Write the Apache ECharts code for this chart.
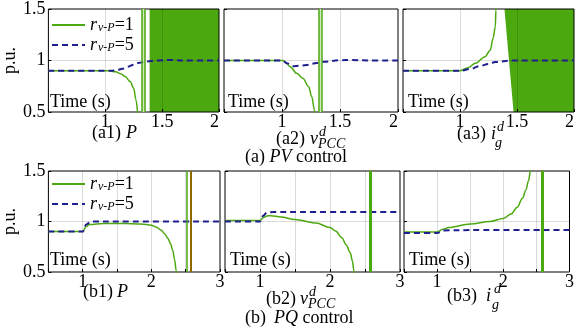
<!DOCTYPE html>
<html>
<head>
<meta charset="utf-8">
<script src="https://cdn.jsdelivr.net/npm/echarts@6/dist/echarts.min.js"></script>
<style>
  html, body { margin: 0; padding: 0; background: #fff; }
  #chart { width: 577px; height: 332px; }
</style>
</head>
<body>
<div id="chart"></div>
<script>
// series names (legend)
const names = ['rv-P=1', 'rv-P=5']

// y ticks shared by every panel
const yTicks = [0.5, 1, 1.5]

// (a) PV control, [time s, p.u.]
const a1Green = [[0.5, 0.9], [1.03, 0.9], [1.09, 0.89], [1.14, 0.87], [1.175, 0.845], [1.22, 0.795], [1.25, 0.73], [1.27, 0.62], [1.285, 0.48]]
const a1Blue = [[0.5, 0.9], [1.05, 0.9], [1.1, 0.905], [1.15, 0.92], [1.2, 0.94], [1.25, 0.96], [1.3, 0.978], [1.36, 0.99], [1.45, 1.0], [1.55, 1.005], [1.7, 1.0], [2.0, 1.0]]
const a2Green = [[0.5, 1.0], [1.01, 1.0], [1.04, 0.97], [1.07, 0.94], [1.127, 0.876], [1.18, 0.827], [1.23, 0.745], [1.256, 0.65], [1.28, 0.52], [1.285, 0.45]]
const a2Blue = [[0.5, 1.0], [1.0, 1.0], [1.05, 0.97], [1.1, 0.945], [1.15, 0.948], [1.21, 0.956], [1.3, 0.975], [1.36, 0.988], [1.5, 1.003], [1.6, 1.005], [1.75, 1.0], [2.0, 1.0]]
const a3Green = [[0.5, 0.9], [1.0, 0.9], [1.07, 0.93], [1.135, 0.973], [1.22, 1.037], [1.265, 1.1], [1.29, 1.215], [1.31, 1.33], [1.315, 1.49], [1.318, 1.6]]
const a3Blue = [[0.5, 0.9], [1.0, 0.9], [1.1, 0.92], [1.17, 0.945], [1.25, 0.965], [1.31, 0.985], [1.45, 1.0], [2.0, 1.0]]

// (b) PQ control
const b1Green = [[0.5, 0.9], [1.0, 0.9], [1.05, 0.95], [1.1, 0.97], [1.3, 0.98], [1.6, 0.98], [1.85, 0.975], [2.0, 0.964], [2.07, 0.945], [2.14, 0.915], [2.2, 0.875], [2.24, 0.833], [2.28, 0.78], [2.31, 0.717], [2.34, 0.62], [2.36, 0.52], [2.37, 0.45]]
const b1Blue = [[0.5, 0.9], [1.0, 0.9], [1.05, 0.97], [1.12, 1.0], [1.5, 1.0], [3.0, 1.0]]
const b2Green = [[0.5, 1.01], [1.0, 1.01], [1.05, 1.04], [1.1, 1.055], [1.15, 1.058], [1.3, 1.045], [1.5, 1.02], [1.8, 0.985], [2.0, 0.94], [2.08, 0.905], [2.17, 0.84], [2.23, 0.77], [2.29, 0.69], [2.32, 0.61], [2.34, 0.52], [2.35, 0.45]]
const b2Blue = [[0.5, 1.0], [1.0, 1.0], [1.05, 1.06], [1.1, 1.09], [1.2, 1.095], [1.6, 1.095], [3.0, 1.095]]
const b3Green = [[0.5, 0.897], [1.0, 0.897], [1.1, 0.925], [1.17, 0.94], [1.5, 0.975], [1.8, 1.0], [2.0, 1.03], [2.12, 1.075], [2.21, 1.14], [2.29, 1.23], [2.34, 1.31], [2.38, 1.4], [2.41, 1.5], [2.43, 1.6]]
const b3Blue = [[0.5, 0.885], [1.0, 0.885], [1.1, 0.912], [1.5, 0.915], [3.0, 0.915]]

// oscillation: filled polygons, pale bands, vertical traces (time s)
const a1Fill = [[1.39, 0.5], [1.39, 1.5], [2.0, 1.5], [2.0, 0.5]]
const a3Fill = [[1.47, 0.5], [1.39, 1.5], [2.0, 1.5], [2.0, 0.5]]
const a1Band = [1.32, 1.35]
const a2Band = [1.32, 1.34]
const a1Spikes = [1.32, 1.35]
const a2Spikes = [1.32, 1.34]
const b1Spikes = [2.52]
const b1OliveSpikes = [2.58]
const b2Spikes = [2.57]
const b3Spikes = [2.59]

const GREEN = '#4ca80f'
const NAVY = '#1f1f8f'
const OLIVE = '#8c6a00'
const SERIF = '"Liberation Serif", "Times New Roman", serif'

const panels = [
  { box: [45, 9, 174, 103], xMax: 2, top: true, green: a1Green, blue: a1Blue, fill: a1Fill, band: a1Band, spikes: a1Spikes, spikeW: 1.5, yLabel: true },
  { box: [224, 9, 174, 103], xMax: 2, top: true, green: a2Green, blue: a2Blue, band: a2Band, spikes: a2Spikes, spikeW: 1.5 },
  { box: [403, 9, 174, 103], xMax: 2, top: true, green: a3Green, blue: a3Blue, fill: a3Fill },
  { box: [45, 171, 175, 101], xMax: 3, green: b1Green, blue: b1Blue, spikes: b1Spikes, spikeW: 1.5, olive: b1OliveSpikes, yLabel: true },
  { box: [225, 171, 175, 101], xMax: 3, green: b2Green, blue: b2Blue, spikes: b2Spikes, spikeW: 3 },
  { box: [404, 171, 175, 101], xMax: 3, green: b3Green, blue: b3Blue, spikes: b3Spikes, spikeW: 3 }
]

const grid = [], xAxis = [], yAxis = [], series = []

panels.forEach((p, i) => {
  grid.push({
    left: p.box[0], top: p.box[1], width: p.box[2], height: p.box[3],
    show: true, borderColor: '#000', borderWidth: 1, backgroundColor: 'transparent'
  })
  xAxis.push({
    gridIndex: i, type: 'value', min: 0.5, max: p.xMax, interval: 0.5,
    axisLine: { show: false },
    axisTick: { inside: true, length: 3, lineStyle: { color: '#000' } },
    splitLine: { show: true, showMinLine: false, showMaxLine: false, lineStyle: { color: 'rgba(0,0,0,0.14)' } },
    axisLabel: {
      fontFamily: SERIF, fontSize: 18, color: '#000', margin: 1,
      alignMaxLabel: p.top ? 'right' : 'center',
      formatter: v => {
        if (v === 0.5) return ''
        if (!p.top && !Number.isInteger(v)) return ''
        return String(v)
      }
    }
  })
  yAxis.push({
    gridIndex: i, type: 'value', min: yTicks[0], max: yTicks[2], interval: 0.5,
    name: p.yLabel ? 'p.u.' : '', nameLocation: 'middle', nameGap: 28,
    nameTextStyle: { fontFamily: SERIF, fontSize: 18, color: '#000' },
    axisLine: { show: false },
    axisTick: { inside: true, length: 3, lineStyle: { color: '#000' } },
    splitLine: { show: true, showMinLine: false, showMaxLine: false, lineStyle: { color: 'rgba(0,0,0,0.14)' } },
    axisLabel: { show: !!p.yLabel, fontFamily: SERIF, fontSize: 18, color: '#000', margin: 3 }
  })

  if (p.fill) {
    const poly = p.fill
    series.push({
      type: 'custom', xAxisIndex: i, yAxisIndex: i, z: -1, silent: true, clip: true,
      data: [poly[0]],
      renderItem: (params, api) => ({
        type: 'polygon',
        shape: { points: poly.map(pt => api.coord(pt)) },
        style: { fill: GREEN }
      })
    })
  }

  const green = {
    name: names[0], type: 'line', xAxisIndex: i, yAxisIndex: i,
    data: p.green, symbol: 'none', showSymbol: false, clip: true,
    smooth: 0.35, smoothMonotone: 'x',
    lineStyle: { color: GREEN, width: 1.5 }, itemStyle: { color: GREEN }
  }
  if (p.spikes) {
    green.markLine = {
      symbol: 'none', silent: true, label: { show: false },
      lineStyle: { color: GREEN, width: p.spikeW, type: 'solid' },
      data: p.spikes.map(x => ({ xAxis: x }))
    }
  }
  if (p.band) {
    green.markArea = {
      silent: true, itemStyle: { color: '#cfe8bd' },
      data: [[{ xAxis: p.band[0] }, { xAxis: p.band[1] }]]
    }
  }
  series.push(green)

  if (p.olive) {
    series.push({
      type: 'line', xAxisIndex: i, yAxisIndex: i, data: [], symbol: 'none',
      markLine: {
        symbol: 'none', silent: true, label: { show: false },
        lineStyle: { color: OLIVE, width: 2, type: 'solid' },
        data: p.olive.map(x => ({ xAxis: x }))
      }
    })
  }

  series.push({
    name: names[1], type: 'line', xAxisIndex: i, yAxisIndex: i,
    data: p.blue, symbol: 'none', showSymbol: false, clip: true, z: 3,
    smooth: 0.35, smoothMonotone: 'x',
    lineStyle: { color: NAVY, width: 2, type: [6, 4] }, itemStyle: { color: NAVY }
  })
})

const legendRich = {
  r: { fontFamily: SERIF, fontStyle: 'italic', fontSize: 18, color: '#000', verticalAlign: 'top', lineHeight: 18 },
  s: { fontFamily: SERIF, fontStyle: 'italic', fontSize: 12, color: '#000', verticalAlign: 'bottom', lineHeight: 12, padding: [8, 0, 0, 1] },
  t: { fontFamily: SERIF, fontSize: 18, color: '#000', verticalAlign: 'top', lineHeight: 18 }
}
const legendBase = {
  orient: 'vertical', left: 46, itemWidth: 33, itemHeight: 12, itemGap: 0,
  data: names,
  itemStyle: { opacity: 0 },
  formatter: n => '{r|r}{s|v-P}{t|=' + n.slice(-1) + '}',
  textStyle: { rich: legendRich }
}

const txt = (x, y, text, extra) => ({
  type: 'text', x, y, silent: true,
  style: Object.assign({
    text, fontFamily: SERIF, fontSize: 18, fill: '#000',
    textAlign: 'center', align: 'center', textVerticalAlign: 'middle', verticalAlign: 'middle'
  }, extra || {})
})
const left = { textAlign: 'left', align: 'left' }
const it = (s) => Object.assign({ fontStyle: 'italic' }, left, s || {})
const SUB = 14

const graphic = [
  // "Time (s)" labels
  txt(50, 102, 'Time (s)', left), txt(228, 102, 'Time (s)', left), txt(408, 102, 'Time (s)', left),
  txt(50, 260, 'Time (s)', left), txt(230, 260, 'Time (s)', left), txt(409, 260, 'Time (s)', left),
  // captions (a)
  txt(92, 133, '(a1) ', left), txt(126, 133, 'P', it()),
  txt(276, 139, '(a2) ', left), txt(310, 139, 'v', it()),
  txt(319, 132, 'd', it({ fontSize: SUB })), txt(318, 144, 'PCC', it({ fontSize: SUB })),
  txt(457, 134, '(a3) ', left), txt(491, 134, 'i', it()),
  txt(497, 127, 'd', it({ fontSize: SUB })), txt(495, 143, 'g', it({ fontSize: SUB })),
  txt(245, 157, '(a) ', left), txt(269.5, 157, 'PV', it()), txt(291.5, 157, ' control', left),
  // captions (b)
  txt(83, 292, '(b1) ', left), txt(117, 292, 'P', it()),
  txt(266, 299, '(b2) ', left), txt(300, 299, 'v', it()),
  txt(309, 292, 'd', it({ fontSize: SUB })), txt(308, 304, 'PCC', it({ fontSize: SUB })),
  txt(447, 296, '(b3)  ', left), txt(486, 296, 'i', it()),
  txt(494, 289, 'd', it({ fontSize: SUB })), txt(492, 305, 'g', it({ fontSize: SUB })),
  txt(245, 318, '(b)  ', left), txt(274, 318, 'PQ', it()), txt(298, 318, ' control', left)
]

const chart = echarts.init(document.getElementById('chart'), null, { renderer: 'canvas' })
chart.setOption({
  animation: false,
  backgroundColor: '#fff',
  grid, xAxis, yAxis, series, graphic,
  legend: [
    Object.assign({ top: 9 }, legendBase),
    Object.assign({ top: 168 }, legendBase)
  ]
})
</script>
</body>
</html>
